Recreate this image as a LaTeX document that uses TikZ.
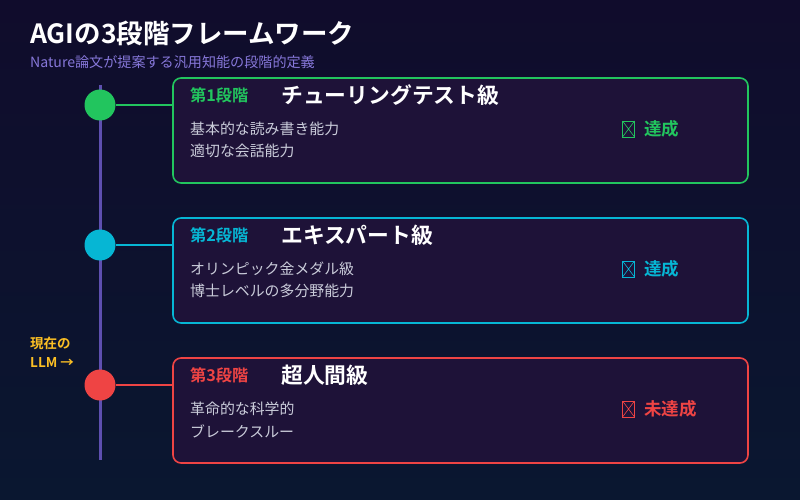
\documentclass[tikz,border=0pt]{standalone}
\usepackage{fontspec}
\setmainfont{Noto Sans CJK JP}[BoldFont={Noto Sans CJK JP Bold}]
\definecolor{bgtop}{HTML}{100C2C}
\definecolor{bgbot}{HTML}{0A1730}
\definecolor{cardfill}{HTML}{1E1238}
\definecolor{cgreen}{HTML}{22C55E}
\definecolor{ccyan}{HTML}{06B6D4}
\definecolor{cred}{HTML}{EF4444}
\definecolor{tline}{HTML}{5E4FB0}
\definecolor{subc}{HTML}{8677D9}
\definecolor{bodyc}{HTML}{CACCDA}
\definecolor{amber}{HTML}{FBBF24}
\tikzset{
  card/.style={draw=#1, fill=cardfill, line width=1.6pt, rounded corners=8pt,
    minimum width=575pt, minimum height=105pt, inner sep=0pt},
  dot/.style={circle, fill=#1, minimum size=31pt, inner sep=0pt},
  link/.style={draw=#1, line width=1.8pt},
  stagelabel/.style={anchor=west, inner sep=0pt, text=#1, font=\bfseries\fontsize{16.2}{19}\selectfont},
  stagetitle/.style={anchor=west, inner sep=0pt, text=white, font=\bfseries\fontsize{21.8}{25}\selectfont},
  bodytext/.style={anchor=west, inner sep=0pt, text=bodyc, font=\fontsize{14.9}{17}\selectfont},
  tofu/.style={draw=#1, line width=0.8pt, minimum width=12pt, minimum height=16pt, inner sep=0pt,
    path picture={\draw[#1, line width=0.6pt] (path picture bounding box.south west) -- (path picture bounding box.north east)
      (path picture bounding box.north west) -- (path picture bounding box.south east);}},
  status/.style={anchor=west, inner sep=0pt, text=#1, font=\bfseries\fontsize{17.5}{20}\selectfont},
  timeline/.style={draw=tline, line width=3pt}
}
\begin{document}
\begin{tikzpicture}[x=1pt,y=-1pt]
\useasboundingbox (0,0) rectangle (800,500);
\shade[top color=bgtop, bottom color=bgbot] (0,0) rectangle (800,500);

\node[anchor=west, inner sep=0pt, text=white, font=\bfseries\fontsize{26.5}{30}\selectfont] (title) at (30,33) {AGIの3段階フレームワーク};
\node[anchor=west, inner sep=0pt, text=subc, font=\fontsize{14.1}{16}\selectfont] (subtitle) at (30,62) {Nature論文が提案する汎用知能の段階的定義};

\coordinate (ltop) at (100,85);
\coordinate (lbot) at (100,460);
\draw[timeline] (ltop) -- (lbot);

% Stage 1
\node[card=cgreen] (card1) at (460.5,130.5) {};
\node[dot=cgreen] (c1) at (100,105) {};
\draw[link=cgreen] (c1.east) -- (c1.east -| card1.west);
\node[stagelabel=cgreen] (l1) at (190,95) {第1段階};
\node[stagetitle] (t1) at (281,95) {チューリングテスト級};
\node[bodytext] (b1a) at (190,129) {基本的な読み書き能力};
\node[bodytext] (b1b) at (190,151) {適切な会話能力};
\node[tofu=cgreen] (x1) at (628.5,129) {};
\node[status=cgreen] (s1) at (644,129) {達成};

% Stage 2
\node[card=ccyan] (card2) at (460.5,270.5) {};
\node[dot=ccyan] (c2) at (100,245) {};
\draw[link=ccyan] (c2.east) -- (c2.east -| card2.west);
\node[stagelabel=ccyan] (l2) at (190,235) {第2段階};
\node[stagetitle] (t2) at (281,235) {エキスパート級};
\node[bodytext] (b2a) at (190,269) {オリンピック金メダル級};
\node[bodytext] (b2b) at (190,291) {博士レベルの多分野能力};
\node[tofu=ccyan] (x2) at (628.5,269) {};
\node[status=ccyan] (s2) at (644,269) {達成};

% Stage 3
\node[card=cred] (card3) at (460.5,410.5) {};
\node[dot=cred] (c3) at (100,385) {};
\draw[link=cred] (c3.east) -- (c3.east -| card3.west);
\node[stagelabel=cred] (l3) at (190,375) {第3段階};
\node[stagetitle] (t3) at (281,375) {超人間級};
\node[bodytext] (b3a) at (190,409) {革命的な科学的};
\node[bodytext] (b3b) at (190,431) {ブレークスルー};
\node[tofu=cred] (x3) at (628.5,409) {};
\node[status=cred] (s3) at (644,409) {未達成};

% current LLM marker
\node[anchor=west, inner sep=0pt, text=amber, font=\bfseries\fontsize{13.5}{16}\selectfont] (cur1) at (30,343) {現在の};
\node[anchor=west, inner sep=0pt, text=amber, font=\bfseries\fontsize{13.5}{16}\selectfont] (cur2) at (30,362) {LLM →};
\end{tikzpicture}
\end{document}
